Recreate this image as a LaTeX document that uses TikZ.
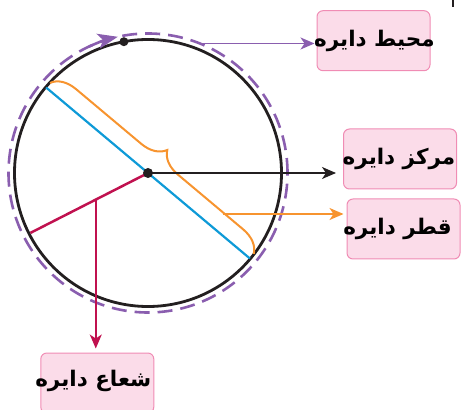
\documentclass[tikz,border=0pt]{standalone}
\usepackage{fontspec}
\newfontfamily\arabicfont[Script=Arabic]{DejaVu Sans}
\TeXXeTstate=1
\usetikzlibrary{arrows.meta,calc,decorations.pathreplacing}
\definecolor{cblack}{HTML}{231F20}
\definecolor{cpurple}{HTML}{8A5EAF}
\definecolor{cblue}{HTML}{0E9AD7}
\definecolor{cred}{HTML}{C0114F}
\definecolor{corange}{HTML}{F7942F}
\definecolor{boxfill}{HTML}{FBDCE9}
\definecolor{boxdraw}{HTML}{F08CB4}
\tikzset{
  lbl/.style={draw=boxdraw, fill=boxfill, rounded corners=6pt, line width=1pt,
    minimum width=113pt, minimum height=60pt, inner sep=0pt,
    font=\arabicfont\bfseries\fontsize{21.5pt}{25pt}\selectfont},
  conn/.style={line width=1.5pt, -{Stealth[length=14pt,width=12pt,inset=4pt]}},
  dotc/.style={circle, fill=cblack, inner sep=0pt, minimum size=9pt}
}
\begin{document}
\begin{tikzpicture}[x=1pt,y=1pt]
\useasboundingbox (0,0) rectangle (462,409);
\coordinate (O) at (148,236);
% boxes
\node[lbl] (mohit) at (373.5,368.3) {};
\node[lbl] (markaz) at (400,250) {};
\node[lbl] (qotr) at (403.5,180) {};
\node[lbl] (shoa) at (97.3,26) {};
\node[lbl, draw=none, fill=none] (tmohit) at ($(mohit.center)+(1,0)$) {\beginR محیط دایره\endR};
\node[lbl, draw=none, fill=none] (tmarkaz) at ($(markaz.center)+(-1,0)$) {\beginR مرکز دایره\endR};
\node[lbl, draw=none, fill=none] (tqotr) at ($(qotr.center)+(-6,0)$) {\beginR قطر دایره\endR};
\node[lbl, draw=none, fill=none] (tshoa) at ($(shoa.center)+(-4,2)$) {\beginR شعاع دایره\endR};
% circles
\draw[cpurple, line width=2.6pt, dash pattern=on 15pt off 8pt] (O) circle[radius=139.5];
\draw[cblack, line width=2.8pt] (O) circle[radius=133.5];
% purple arrowhead on dashed circle
\draw[cpurple, line width=2.6pt, -{Stealth[length=20pt,width=15pt,inset=5pt]}] ($(O)+(115:139.5)$) arc[start angle=115, end angle=102.5, radius=139.5];
% diameter
\coordinate (D1) at ($(O)+(140:133)$);
\coordinate (D2) at ($(O)+(-40:133)$);
\draw[cblue, line width=2.2pt] (D1) -- (D2);
% brace
\draw[corange, line width=2pt, decorate, decoration={brace, amplitude=24pt}]
  ($(D1)+(50:6)$) -- ($(D2)+(50:6)$);
% radius
\coordinate (Rend) at ($(O)+(207:132)$);
\draw[cred, line width=2.5pt] (O) -- (Rend);
\coordinate (R) at ($(O)!0.444!(Rend)$);
% connectors
\coordinate (P) at ($(O)+(68.2:139.5)$);
\draw[conn, cpurple] (P) -- (P -| mohit.west) [shorten >=2pt];
\draw[conn, cblack] (O) -- (O -| markaz.west) [shorten >=7pt];
\coordinate (B) at (223,195);
\draw[conn, corange] (B) -- (B -| qotr.west) [shorten >=3pt];
\draw[conn, cred] (R) -- (R |- shoa.north) [shorten >=4pt];
% dots
\node[dotc] (topdot) at ($(O)+(100.4:133.5)$) {};
\node[dotc, minimum size=10pt] (cdot) at (O) {};
% cut-off mark
\draw[cblack, line width=2pt] (453,402) -- (453,409);
\end{tikzpicture}
\end{document}
